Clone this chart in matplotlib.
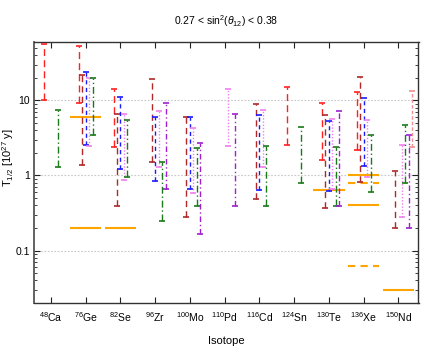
import matplotlib
matplotlib.use('Agg')
import matplotlib.pyplot as plt
from matplotlib import font_manager
from matplotlib.ticker import LogLocator, NullFormatter, FixedLocator

# ---------------- data ----------------
isotopes = ['48Ca', '76Ge', '82Se', '96Zr', '100Mo', '110Pd', '116Cd', '124Sn', '130Te', '136Xe', '150Nd']
tick_labels = [r'$^{48}$Ca', r'$^{76}$Ge', r'$^{82}$Se', r'$^{96}$Zr', r'$^{100}$Mo', r'$^{110}$Pd',
               r'$^{116}$Cd', r'$^{124}$Sn', r'$^{130}$Te', r'$^{136}$Xe', r'$^{150}$Nd']

red_iso = ['48Ca', '76Ge', '82Se', '124Sn', '130Te', '136Xe']
red_lo = [10.0, 9.2, 2.4, 2.58, 1.6, 2.2]
red_hi = [56.6, 53.8, 14.0, 15.0, 9.3, 12.8]

darkred_iso = ['76Ge', '82Se', '96Zr', '100Mo', '116Cd', '130Te', '136Xe', '150Nd']
darkred_lo = [1.37, 0.395, 1.52, 0.28, 0.48, 0.37, 0.82, 0.20]
darkred_hi = [21.5, 6.5, 19.2, 5.94, 9.0, 6.3, 20.8, 1.14]

blue_iso = ['76Ge', '82Se', '96Zr', '100Mo', '116Cd', '130Te', '136Xe']
blue_lo = [2.52, 1.21, 0.84, 0.67, 0.64, 0.62, 1.34]
blue_hi = [23.8, 11.2, 6.07, 6.1, 6.3, 5.3, 10.7]

violet_iso = ['76Ge', '82Se', '96Zr', '100Mo', '110Pd', '116Cd', '130Te', '136Xe', '150Nd']
violet_lo = [2.45, 0.87, 1.3, 0.58, 2.45, 1.3, 0.66, 0.96, 0.28]
violet_hi = [19.8, 6.66, 7.3, 4.33, 14.3, 7.36, 5.7, 5.4, 2.52]

green_iso = ['48Ca', '76Ge', '82Se', '96Zr', '100Mo', '116Cd', '124Sn', '130Te', '136Xe', '150Nd']
green_lo = [1.28, 3.43, 0.94, 0.25, 0.395, 0.395, 0.80, 0.395, 0.60, 0.80]
green_hi = [7.36, 19.8, 5.4, 1.5, 2.3, 2.5, 4.37, 2.4, 3.43, 4.7]

purple_iso = ['96Zr', '100Mo', '110Pd', '130Te', '150Nd']
purple_lo = [0.67, 0.168, 0.395, 0.395, 0.20]
purple_hi = [9.2, 2.69, 6.58, 7.2, 3.5]

pink_iso = ['150Nd']
pink_lo = [2.36]
pink_hi = [13.5]

limit_iso = ['76Ge', '76Ge', '82Se', '130Te', '136Xe', '136Xe', '136Xe', '136Xe', '150Nd']
limit_val = [5.94, 0.20, 0.20, 0.65, 1.0, 0.80, 0.40, 0.063, 0.0297]
limit_dashed = [False, False, False, False, False, True, False, True, False]

# ---------------- fonts ----------------
names = {f.name for f in font_manager.fontManager.ttflist}
if 'Liberation Sans Narrow' in names:
    fam = 'Liberation Sans Narrow'
    fs = 8.5
else:
    fam = 'Liberation Sans'
    fs = 7.5
plt.rcParams['font.family'] = [fam, 'DejaVu Sans']
plt.rcParams['mathtext.fontset'] = 'custom'
plt.rcParams['mathtext.rm'] = fam
plt.rcParams['mathtext.it'] = fam + ':italic'
plt.rcParams['mathtext.bf'] = fam + ':bold'

# ---------------- figure ----------------
W, H = 425, 348
fig = plt.figure(figsize=(W / 100, H / 100), dpi=100)
ax = fig.add_axes([34 / W, 1 - 303 / H, (418.5 - 34) / W, (303 - 42) / H])

pos = {iso: i for i, iso in enumerate(isotopes)}

series = [
    (red_iso, red_lo, red_hi, -0.2, '#ff2020', (0, (5, 3))),
    (darkred_iso, darkred_lo, darkred_hi, -0.1, '#b02828', (0, (4.5, 3))),
    (blue_iso, blue_lo, blue_hi, 0.0, '#1a1aff', (0, (3, 2.5))),
    (violet_iso, violet_lo, violet_hi, 0.1, '#f080f0', (0, (1, 1.3))),
    (green_iso, green_lo, green_hi, 0.2, '#1a7a1a', (0, (5, 2, 1, 2))),
    (purple_iso, purple_lo, purple_hi, 0.3, '#a020d0', (0, (4, 2, 1, 2))),
    (pink_iso, pink_lo, pink_hi, 0.4, '#f09090', (0, (2.5, 1.5))),
]

for iso_list, lo, hi, off, col, ls in series:
    xs = [pos[i] + off for i in iso_list]
    ax.vlines(xs, lo, hi, colors=col, linestyles=[ls], linewidth=1.0, zorder=3)
    ax.plot(xs, lo, linestyle='none', marker='_', markersize=4.8, markeredgewidth=1.2, color=col, zorder=3)
    ax.plot(xs, hi, linestyle='none', marker='_', markersize=4.8, markeredgewidth=1.2, color=col, zorder=3)

for iso, v, d in zip(limit_iso, limit_val, limit_dashed):
    x = pos[iso]
    ax.hlines(v, x - 0.45, x + 0.45, colors='#ffa500', linewidth=1.5,
              linestyles=[(0, (3.5, 2.5))] if d else ['solid'], zorder=2)

ax.set_yscale('log')
ax.set_ylim(0.02, 60)
ax.set_xlim(-0.49, 10.58)
ax.yaxis.set_major_locator(FixedLocator([0.1, 1, 10]))
ax.set_yticklabels(['0.1', '1', '10'])
ax.yaxis.set_minor_locator(LogLocator(base=10, subs=range(2, 10), numticks=20))
ax.yaxis.set_minor_formatter(NullFormatter())
ax.set_xticks(range(len(isotopes)))
ax.set_xticklabels(tick_labels)
ax.tick_params(axis='both', which='both', direction='in', top=True, right=True, labelsize=fs, color='#222222')
ax.tick_params(axis='both', which='major', length=4, width=0.8, pad=3)
ax.tick_params(axis='y', which='minor', length=2.2, width=0.6)
ax.tick_params(axis='x', which='major', pad=5.5)
for s in ax.spines.values():
    s.set_linewidth(1.0)
    s.set_color('#333333')
ax.spines['left'].set_color('#555555')
ax.spines['left'].set_linewidth(1.3)
ax.grid(True, axis='y', which='major', color='#c8c8c8', linestyle=(0, (1.5, 1.5)), linewidth=0.8, zorder=0)
ax.set_axisbelow(True)

ax.set_title(r'0.27 < sin$^{2}$($\theta_{12}$) < 0.38', fontsize=fs, pad=12)
ax.set_xlabel('Isotope', fontsize=fs + 0.5, labelpad=8)
fig.text(8 / W, 1 - 158 / H, r'T$_{1/2}$ [10$^{27}$ y]', rotation=90, ha='center', va='center', fontsize=fs + 0.5)

fig.savefig('out.png', dpi=100)
